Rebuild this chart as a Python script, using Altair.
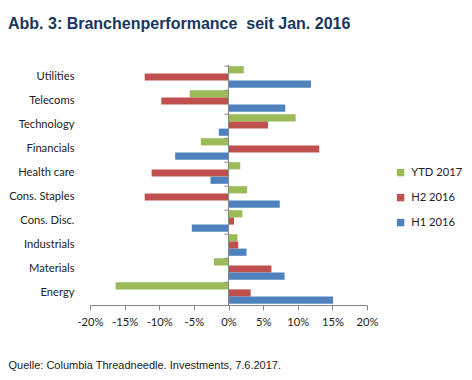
import altair as alt
import pandas as pd

categories = ["Utilities", "Telecoms", "Technology", "Financials", "Health care",
              "Cons. Staples", "Cons. Disc.", "Industrials", "Materials", "Energy"]
series = ["YTD 2017", "H2 2016", "H1 2016"]
ytd_2017 = [2.2, -5.6, 9.7, -4.0, 1.7, 2.7, 2.0, 1.3, -2.1, -16.3]
h2_2016 = [-12.1, -9.7, 5.7, 13.1, -11.1, -12.1, 0.8, 1.4, 6.2, 3.2]
h1_2016 = [11.9, 8.2, -1.4, -7.7, -2.6, 7.4, -5.3, 2.6, 8.1, 15.1]
x_ticks = [-20, -15, -10, -5, 0, 5, 10, 15, 20]
colors = ["#9BBB59", "#C0504D", "#4F81BD"]

rows = []
for name, vals in zip(series, [ytd_2017, h2_2016, h1_2016]):
    for c, v in zip(categories, vals):
        rows.append({"Branche": c, "Serie": name, "Wert": v})
df = pd.DataFrame(rows)

W, H = 277, 240
LBL = "Lato"
LFS = 11.2

ycat = alt.Scale(domain=categories, paddingInner=0.1, paddingOuter=0.05)
xscale = alt.Scale(domain=[-20, 20], nice=False)

yaxis = alt.Axis(title=None, domain=False, ticks=False, labelFont=LBL,
                 labelFontSize=LFS, labelColor="#222222", labelPadding=16)
xaxis = alt.Axis(values=x_ticks, tickCount=9,
                 labelExpr="datum.value + '%'",
                 labelOverlap=False, labelBound=False, labelFlush=False,
                 grid=False, domainColor="#868686", tickColor="#868686",
                 tickSize=5, labelFont=LBL, labelFontSize=LFS, labelColor="#222222",
                 labelPadding=6,
                 title="Quelle: Columbia Threadneedle. Investments, 7.6.2017.",
                 titleFont="Liberation Sans", titleFontSize=11,
                 titleFontWeight="normal", titleColor="#222222",
                 titleAnchor="start", titleAlign="left", titleX=-82, titleY=63,
                 titleBaseline="alphabetic")

bars = alt.Chart(df).mark_bar().encode(
    y=alt.Y("Branche:N", sort=categories, scale=ycat, axis=yaxis),
    yOffset=alt.YOffset("Serie:N", sort=series),
    x=alt.X("Wert:Q", scale=xscale, axis=xaxis),
    color=alt.Color("Serie:N", sort=series,
                    scale=alt.Scale(domain=series, range=colors),
                    legend=alt.Legend(title=None, orient="none", legendX=305, legendY=102,
                                      symbolType="square", symbolSize=55,
                                      symbolStrokeWidth=0, labelFont=LBL,
                                      labelFontSize=LFS, labelColor="#222222",
                                      rowPadding=13, labelOffset=5)),
)

zero_line = alt.Chart(df).mark_rule(color="#868686").encode(
    x=alt.X("zero:Q", scale=xscale, axis=xaxis)
).transform_calculate(zero="0")

cat_df = pd.DataFrame({"Branche": categories})
zero_ticks = alt.Chart(cat_df).mark_rule(color="#868686", x2Offset=-4).encode(
    y=alt.Y("Branche:N", sort=categories, scale=ycat, bandPosition=0, axis=yaxis),
    x=alt.X("zero:Q", scale=xscale, axis=xaxis),
    x2="zero:Q",
).transform_calculate(zero="0")

chart = alt.layer(bars, zero_line, zero_ticks).properties(
    width=W, height=H,
    autosize=alt.AutoSizeParams(type="none"),
    padding={"left": 82, "top": 57, "right": 97, "bottom": 67},
    title=alt.Title("Abb. 3: Branchenperformance\u00a0 seit Jan. 2016",
                    anchor="start", frame="group", dx=-82, offset=33,
                    font="Liberation Sans", fontSize=16, fontWeight="bold",
                    color="#17375E"),
).configure_view(stroke=None)

chart.save("out.html", embed_options={"renderer": "svg", "actions": False})
